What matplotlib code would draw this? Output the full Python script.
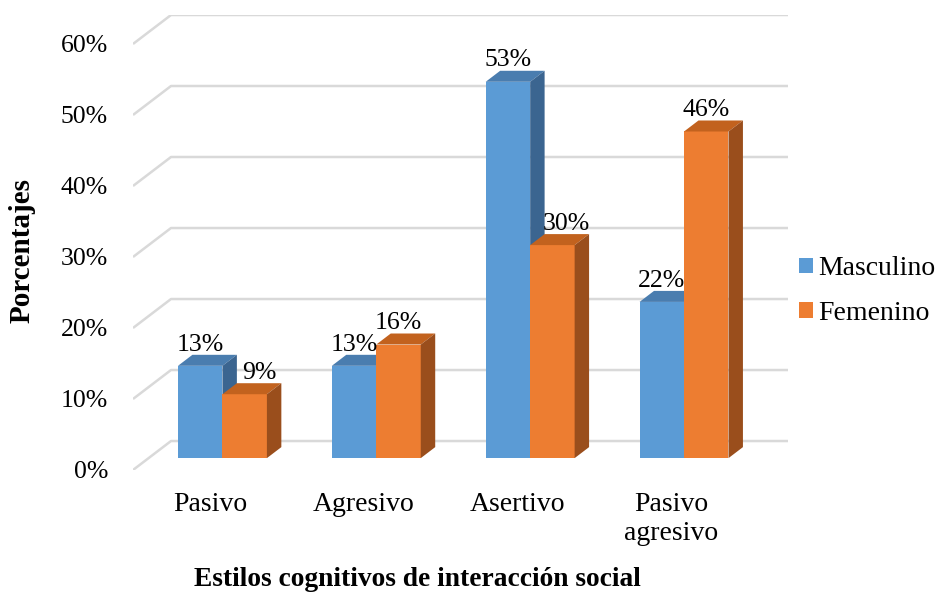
import numpy as np
import matplotlib
matplotlib.use("Agg")
import matplotlib.pyplot as plt
from matplotlib.patches import Polygon, Patch

categories = ["Pasivo", "Agresivo", "Asertivo", "Pasivo\nagresivo"]
masculino = [13, 13, 53, 22]
femenino = [9, 16, 30, 46]
series_names = ["Masculino", "Femenino"]
yticks = [0, 10, 20, 30, 40, 50, 60]

plt.rcParams["font.family"] = ["Liberation Serif", "DejaVu Serif"]

# oblique projection of the depth axis, in data units
dxu, dyu = 0.247, 4.08
z0, z1 = 0.41, 0.79
w = 0.289
x = np.arange(len(categories))

front = ["#5B9BD5", "#ED7D31"]
top = ["#4A7DAF", "#C2621E"]
side = ["#3B6590", "#9A4E1C"]
grid_c = "#D9D9D9"

fig = plt.figure(figsize=(9.39, 5.96), dpi=100)
ax = fig.add_axes([133 / 939, 126 / 596, 655 / 939, 455 / 596])
x_left, x_right = -0.48, 3.777
ax.set_xlim(x_left, x_right)
ax.set_ylim(0, 60 + dyu)
for s in ax.spines.values():
    s.set_visible(False)

# walls: left diagonal + back horizontal line for each tick
for t in yticks:
    ax.plot([x_left, x_left + dxu, x_right], [t, t + dyu, t + dyu],
            color=grid_c, lw=1.8, zorder=1, solid_capstyle="butt")

sx, sy = z0 * dxu, z0 * dyu
ddx, ddy = (z1 - z0) * dxu, (z1 - z0) * dyu
for i in range(len(categories)):
    for k, vals in enumerate([masculino, femenino]):
        v = vals[i]
        left = x[i] - w + k * w + sx
        b = sy
        ax.bar(left, v, w, bottom=b, align="edge", color=front[k],
               linewidth=0, zorder=2 + i * 2 + k)
        ax.add_patch(Polygon([(left, b + v), (left + w, b + v),
                              (left + w + ddx, b + v + ddy), (left + ddx, b + v + ddy)],
                             closed=True, color=top[k], lw=0, zorder=2 + i * 2 + k))
        ax.add_patch(Polygon([(left + w, b), (left + w + ddx, b + ddy),
                              (left + w + ddx, b + v + ddy), (left + w, b + v)],
                             closed=True, color=side[k], lw=0, zorder=2 + i * 2 + k))
        lx = left + w / 2 + (ddx if (k == 1 and vals[i] < masculino[i]) else 0)
        ax.text(lx, b + v + ddy - 0.1, f"{v}%", ha="center", va="bottom",
                fontsize=18.5, zorder=20)

ax.set_yticks(yticks)
ax.set_yticklabels([f"{t}%" for t in yticks], fontsize=18.5)
ax.set_xticks(x + 0.02)
ax.set_xticklabels(categories, fontsize=20, linespacing=1.2)
ax.tick_params(axis="both", length=0)
ax.tick_params(axis="y", pad=18)
ax.tick_params(axis="x", pad=16)

fig.text(22 / 939, 1 - 251 / 596, "Porcentajes", rotation=90, ha="center",
         va="center", fontsize=21, fontweight="bold")
fig.text(417 / 939, 1 - 580 / 596, "Estilos cognitivos de interacción social",
         ha="center", va="center", fontsize=19.8, fontweight="bold")

handles = [Patch(facecolor=front[k], edgecolor="none") for k in range(2)]
fig.legend(handles, series_names, loc="center left",
           bbox_to_anchor=(799 / 939, 1 - 291 / 596), frameon=False,
           fontsize=20, handlelength=0.5, handleheight=0.5,
           handletextpad=0.2, labelspacing=0.7, borderpad=0, borderaxespad=0)

fig.savefig("out.png", dpi=100)
